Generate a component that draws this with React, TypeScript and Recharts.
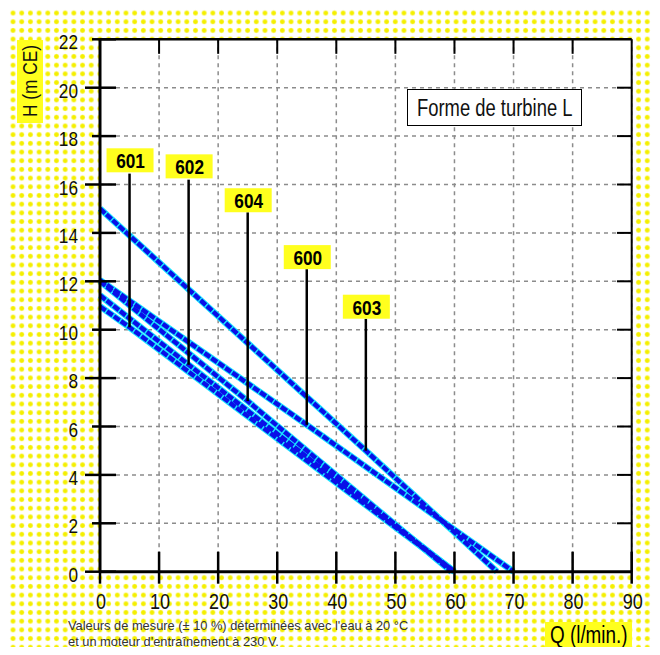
import {
  LineChart,
  Line,
  XAxis,
  YAxis,
  CartesianGrid,
  ReferenceLine,
  ReferenceDot,
} from "recharts"

const qTicks = [0, 10, 20, 30, 40, 50, 60, 70, 80, 90]
const hTicks = [0, 2, 4, 6, 8, 10, 12, 14, 16, 18, 20, 22]

// pump curves (Q l/min, H m CE)
const pump603 = [
  { q: 0, h: 15 },
  { q: 45, h: 5.0 },
  { q: 67.2, h: 0 },
]
const pump600 = [
  { q: 0, h: 12.05 },
  { q: 35, h: 6.07 },
  { q: 70, h: 0 },
]
const pump604 = [
  { q: 0, h: 12.0 },
  { q: 25, h: 7.05 },
  { q: 59.5, h: 0 },
]
const pump602 = [
  { q: 0, h: 11.42 },
  { q: 15, h: 8.55 },
  { q: 60, h: 0 },
]
const pump601 = [
  { q: 0, h: 10.96 },
  { q: 5, h: 10.1 },
  { q: 60, h: 0 },
]

const curves = [pump603, pump600, pump604, pump602, pump601]

const pumpNames = ["601", "602", "604", "600", "603"]
const labelQ = [5, 15, 25, 35, 45]
const labelH = [17.0, 16.75, 15.35, 13.0, 10.95]
const leaderTopH = [16.45, 16.2, 14.85, 12.5, 10.45]
const leaderEndH = [10.1, 8.55, 7.05, 6.07, 5.0]

// no narrow font installed, so Liberation Sans squeezed horizontally
const FONT = "'Liberation Sans', Arial, sans-serif"
const NARROW = 0.82

const HTick = (props: any) => {
  const { x, y, payload } = props
  const long = payload.value % 4 === 0
  return (
    <g>
      <line x1={x - (long ? 15 : 8)} x2={x + 16} y1={y} y2={y} stroke="#000" strokeWidth={2.5} />
      <text
        transform={`translate(${x - 22}, ${y + 10}) scale(${NARROW}, 1)`}
        textAnchor="end"
        fontSize={21}
        fontFamily={FONT}
        fill="#111"
      >
        {payload.value}
      </text>
    </g>
  )
}

const QTick = (props: any) => {
  const { x, y, payload } = props
  return (
    <g>
      <line x1={x} x2={x} y1={payload.value === 0 ? y : y - 20} y2={y + 12} stroke="#000" strokeWidth={2.5} />
      <text
        transform={`translate(${x + 1}, ${y + 37}) scale(${NARROW}, 1)`}
        textAnchor="middle"
        fontSize={22}
        fontFamily={FONT}
        fill="#111"
      >
        {payload.value}
      </text>
    </g>
  )
}

const tagShape = (name: string) => (props: any) => {
  const { cx, cy } = props
  return (
    <g>
      <rect x={cx - 23} y={cy - 12} width={47} height={24} fill="#ffff1e" />
      <text
        transform={`translate(${cx + 1}, ${cy + 8}) scale(${NARROW}, 1)`}
        textAnchor="middle"
        fontSize={21}
        fontWeight="bold"
        fontFamily={FONT}
        fill="#000"
      >
        {name}
      </text>
    </g>
  )
}

export default function App() {
  return (
    <div
      style={{
        position: "relative",
        width: 660,
        height: 655,
        margin: -8,
        backgroundColor: "#ffffff",
        backgroundImage:
          "radial-gradient(circle, #f4ef00 0, #f4ef00 1.8px, #fbf77a 2.4px, transparent 3px)",
        backgroundSize: "8.7px 8.7px",
        fontFamily: FONT,
      }}
    >
      <LineChart
        width={660}
        height={655}
        margin={{ top: 39.3, right: 28.3, bottom: 53.3, left: 40 }}
        style={{ position: "absolute", left: 0, top: 0 }}
      >
        <CartesianGrid stroke="#8c8c8c" strokeWidth={1.5} strokeDasharray="4 4" fill="#fff" />
        <XAxis
          type="number"
          dataKey="q"
          domain={[0, 90]}
          ticks={qTicks}
          height={30}
          tickSize={0}
          tickMargin={0}
          tickLine={false}
          tick={<QTick />}
          axisLine={{ stroke: "#000", strokeWidth: 3 }}
          interval={0}
        />
        <YAxis
          type="number"
          domain={[0, 22]}
          ticks={hTicks}
          width={60}
          tickSize={0}
          tickMargin={0}
          tickLine={false}
          tick={<HTick />}
          axisLine={{ stroke: "#000", strokeWidth: 3 }}
          interval={0}
        />
        <ReferenceLine y={22} stroke="#000" strokeWidth={2.5} />
        <ReferenceLine x={90} stroke="#000" strokeWidth={2} />
        {qTicks.slice(1, -1).map((q) => (
          <ReferenceLine
            key={`tt-${q}`}
            segment={[
              { x: q, y: 22 },
              { x: q, y: 21.4 },
            ]}
            stroke="#000"
            strokeWidth={2}
          />
        ))}
        {hTicks.slice(1, -1).map((h) => (
          <ReferenceLine
            key={`rt-${h}`}
            segment={[
              { x: 90, y: h },
              { x: 87.5, y: h },
            ]}
            stroke="#000"
            strokeWidth={2}
          />
        ))}
        {curves.map((d, i) => (
          <Line
            key={`c-${i}`}
            data={d}
            dataKey="h"
            type="linear"
            stroke="#18e2ff"
            strokeWidth={6.5}
            dot={false}
            activeDot={false}
            isAnimationActive={false}
          />
        ))}
        {curves.map((d, i) => (
          <Line
            key={`b-${i}`}
            data={d}
            dataKey="h"
            type="linear"
            stroke="#0a0fe8"
            strokeWidth={4.5}
            strokeDasharray="7 1.5"
            dot={false}
            activeDot={false}
            isAnimationActive={false}
          />
        ))}
        {pumpNames.map((n, i) => (
          <ReferenceLine
            key={`ld-${n}`}
            segment={[
              { x: labelQ[i], y: leaderTopH[i] },
              { x: labelQ[i], y: leaderEndH[i] },
            ]}
            stroke="#000"
            strokeWidth={2.5}
          />
        ))}
        {pumpNames.map((n, i) => (
          <ReferenceDot
            key={`tag-${n}`}
            x={labelQ[i]}
            y={labelH[i]}
            r={1}
            shape={tagShape(n)}
          />
        ))}
      </LineChart>

      {/* y axis title */}
      <div
        style={{
          position: "absolute",
          left: 17,
          top: 40,
          width: 26,
          height: 83,
          background: "#ffff1e",
        }}
      />
      <div
        style={{
          position: "absolute",
          left: 30,
          top: 81,
          transform: `translate(-50%, -50%) rotate(-90deg) scale(${NARROW}, 1)`,
          fontSize: 21,
          lineHeight: "22px",
          whiteSpace: "nowrap",
          color: "#111",
        }}
      >
        H (m CE)
      </div>

      {/* legend box */}
      <div
        style={{
          position: "absolute",
          left: 407,
          top: 89,
          width: 173,
          height: 35,
          border: "1.5px solid #000",
          background: "#fff",
          boxSizing: "content-box",
        }}
      >
        <div
          style={{
            position: "absolute",
            left: 9,
            top: 0,
            fontSize: 23,
            lineHeight: "36px",
            color: "#111",
            whiteSpace: "nowrap",
            transform: "scale(0.8, 1)",
            transformOrigin: "left center",
          }}
        >
          Forme de turbine L
        </div>
      </div>

      {/* x axis title */}
      <div
        style={{
          position: "absolute",
          left: 545,
          top: 622,
          width: 87,
          height: 26,
          background: "#ffff1e",
        }}
      >
        <div
          style={{
            position: "absolute",
            left: 5,
            top: 0,
            fontSize: 23,
            lineHeight: "26px",
            color: "#000",
            whiteSpace: "nowrap",
            transform: `scale(${NARROW}, 1)`,
            transformOrigin: "left center",
          }}
        >
          Q (l/min.)
        </div>
      </div>

      {/* footnote */}
      <div
        style={{
          position: "absolute",
          left: 68,
          top: 618,
          fontSize: 13.5,
          lineHeight: "15.5px",
          color: "#333",
          whiteSpace: "nowrap",
          transform: "scale(0.95, 1)",
          transformOrigin: "left top",
        }}
      >
        Valeurs de mesure (± 10 %) déterminées avec l'eau à 20 °C
        <br />
        et un moteur d'entraînement à 230 V.
      </div>
    </div>
  )
}
